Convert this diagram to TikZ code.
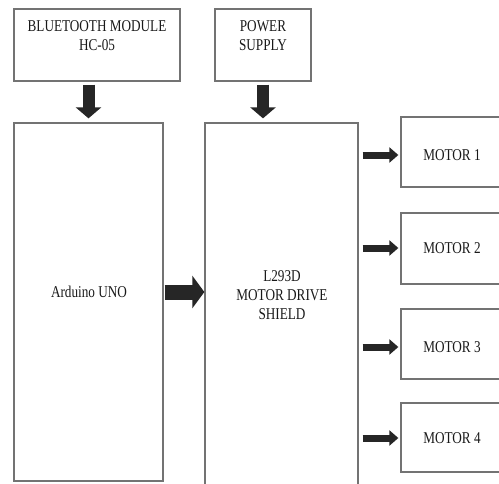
\documentclass[tikz,border=0pt]{standalone}
\usepackage{fontspec}
\newfontfamily\dfont[FakeStretch=0.8]{Liberation Serif}
\usetikzlibrary{arrows.meta}
\tikzset{
  box/.style={draw=black!55, line width=1.3pt, fill=white, rectangle, inner sep=0pt},
  lbl/.style={font=\dfont\fontsize{16.5}{19}\selectfont, text=black!90, align=center, inner sep=0pt},
  bigarrow/.style={draw=black!85, line width=12pt, -{Triangle[width=25pt,length=11pt]}},
  sidearrow/.style={draw=black!85, line width=15pt, -{Triangle[width=32pt,length=12pt]}},
  motorarrow/.style={draw=black!85, line width=7pt, -{Triangle[width=15pt,length=9pt]}}
}
\begin{document}
\begin{tikzpicture}[x=1pt,y=-1pt]
\useasboundingbox (0,0) rectangle (499,483);
\clip (0,0) rectangle (499,483);
\fill[white] (0,0) rectangle (499,483);
% boxes
\node[box, minimum width=166pt, minimum height=72pt] (bt) at (97,45) {};
\node[box, minimum width=96pt, minimum height=72pt] (pw) at (263,45) {};
\node[box, minimum width=149pt, minimum height=358pt] (ard) at (88.5,302) {};
\node[box, minimum width=153pt, minimum height=375pt] (sh) at (281.5,310.5) {};
\node[box, minimum width=104pt, minimum height=70pt] (m1) at (453,152) {};
\node[box, minimum width=104pt, minimum height=71pt] (m2) at (453,248.5) {};
\node[box, minimum width=104pt, minimum height=70pt] (m3) at (453,344) {};
\node[box, minimum width=104pt, minimum height=69pt] (m4) at (453,437.5) {};
% texts
\node[lbl] (btt) at (97,36) {BLUETOOTH MODULE\\HC-05};
\node[lbl] (pwt) at (263,36) {POWER\\SUPPLY};
\node[lbl] (ardt) at (89,292) {Arduino UNO};
\node[lbl] (sht) at (282,295) {L293D\\MOTOR DRIVE\\SHIELD};
\node[lbl] (m1t) at (452,155) {MOTOR 1};
\node[lbl] (m2t) at (452,248) {MOTOR 2};
\node[lbl] (m3t) at (452,347) {MOTOR 3};
\node[lbl] (m4t) at (452,438) {MOTOR 4};
% arrows
\draw[bigarrow, shorten <=3pt, shorten >=4pt] (ard.north |- bt.south) -- (ard.north);
\draw[bigarrow, shorten <=3pt, shorten >=4pt] (pw.south) -- (pw.south |- sh.north);
\draw[sidearrow, shorten <=1pt] (ard.east |- ardt) -- (sh.west |- ardt);
\draw[motorarrow, shorten <=4pt, shorten >=2pt] (m1t -| sh.east) -- (m1t -| m1.west);
\draw[motorarrow, shorten <=4pt, shorten >=2pt] (m2t -| sh.east) -- (m2t -| m2.west);
\draw[motorarrow, shorten <=4pt, shorten >=2pt] (m3t -| sh.east) -- (m3t -| m3.west);
\draw[motorarrow, shorten <=4pt, shorten >=2pt] (m4t -| sh.east) -- (m4t -| m4.west);
\end{tikzpicture}
\end{document}
